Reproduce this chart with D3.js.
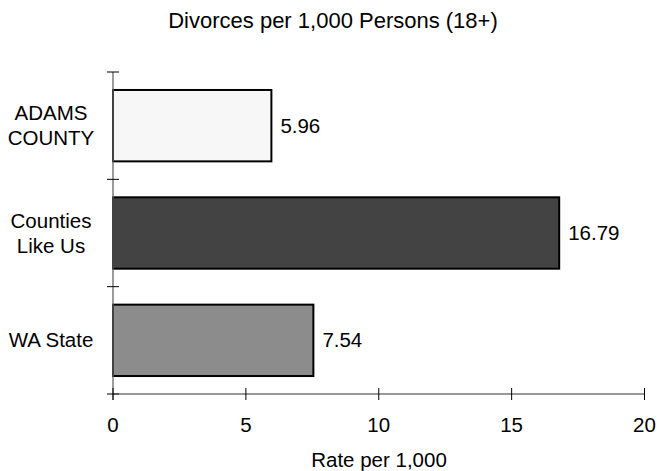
<!DOCTYPE html>
<html><head><meta charset="utf-8">
<script src="https://d3js.org/d3.v7.min.js"></script>
<style>body{margin:0;background:#fff}svg{display:block}text{font-family:"Liberation Sans",Arial,sans-serif;fill:#000}</style>
</head><body><svg id="c" width="657" height="471"></svg>
<script>
const categories = ["ADAMS COUNTY", "Counties Like Us", "WA State"];
const categoryLines = [["ADAMS", "COUNTY"], ["Counties", "Like Us"], ["WA State"]];
const values = [5.96, 16.79, 7.54];
const colors = ["#f7f7f7", "#434343", "#8c8c8c"];
const xTicks = [0, 5, 10, 15, 20];
const title = "Divorces per 1,000 Persons (18+)";
const xTitle = "Rate per 1,000";

const svg = d3.select("#c");
const L = 113, R = 644.5, T = 72, B = 394;
const FS = 20.5;
const x = d3.scaleLinear().domain([0, 20]).range([L, R]);
const y = d3.scaleBand().domain(categories).range([T, B]).paddingInner(0.335).paddingOuter(0.1675);

svg.append("text").attr("x", 333).attr("y", 28).attr("text-anchor", "middle").attr("font-size", 22).text(title);

// bars
svg.selectAll("rect.bar").data(categories).join("rect")
  .attr("x", x(0)).attr("y", d => y(d))
  .attr("width", (d, i) => x(values[i]) - x(0)).attr("height", y.bandwidth())
  .attr("fill", (d, i) => colors[i]).attr("stroke", "#000").attr("stroke-width", 2);

// value labels
svg.selectAll("text.val").data(categories).join("text")
  .attr("x", (d, i) => x(values[i]) + 9).attr("y", d => y(d) + y.bandwidth() / 2 + 7)
  .attr("font-size", FS).text((d, i) => values[i].toFixed(2));

// y axis
svg.append("line").attr("x1", L).attr("x2", L).attr("y1", T).attr("y2", B + 6).attr("stroke", "#666").attr("stroke-width", 1.3);
const bandEdges = categories.map(d => y(d) - y.step() * y.paddingInner() / 2).concat([B]);
svg.selectAll("line.yt").data(bandEdges).join("line")
  .attr("x1", L - 6).attr("x2", L + 6).attr("y1", d => d).attr("y2", d => d).attr("stroke", "#000").attr("stroke-width", 1);

// category labels
categories.forEach((c, i) => {
  const lines = categoryLines[i];
  const cy = y(c) + y.bandwidth() / 2;
  const t = svg.append("text").attr("text-anchor", "middle").attr("font-size", FS);
  lines.forEach((ln, j) => {
    t.append("tspan").attr("x", 51).attr("y", cy + 7 + (j - (lines.length - 1) / 2) * 25).text(ln);
  });
});

// x axis
svg.append("line").attr("x1", L).attr("x2", R).attr("y1", B).attr("y2", B).attr("stroke", "#333").attr("stroke-width", 1.2);
svg.selectAll("line.xt").data(xTicks).join("line")
  .attr("x1", d => x(d)).attr("x2", d => x(d)).attr("y1", B - 6).attr("y2", B + 6).attr("stroke", "#000").attr("stroke-width", 1);
svg.selectAll("text.xl").data(xTicks).join("text")
  .attr("x", d => x(d)).attr("y", 432).attr("text-anchor", "middle").attr("font-size", FS).text(d => d);
svg.append("text").attr("x", 379).attr("y", 467).attr("text-anchor", "middle").attr("font-size", FS).text(xTitle);
</script></body></html>
